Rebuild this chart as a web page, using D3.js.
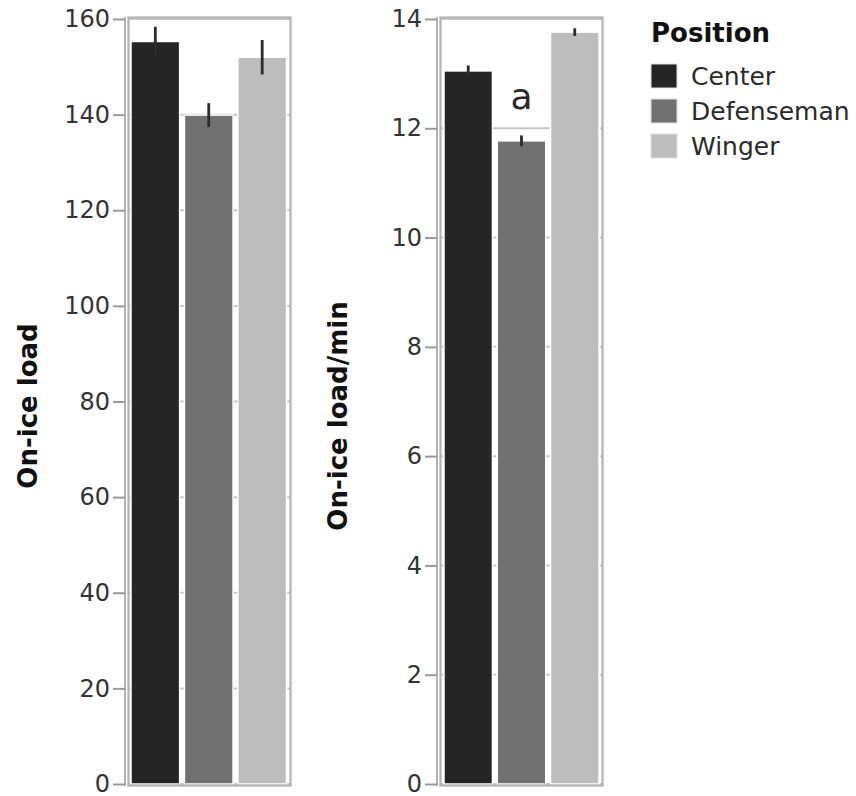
<!DOCTYPE html>
<html>
<head>
<meta charset="utf-8">
<script src="https://cdn.jsdelivr.net/npm/d3@7"></script>
<style>
  html, body { margin: 0; padding: 0; background: #fff; }
  svg { display: block; font-family: "DejaVu Sans", sans-serif; }
</style>
</head>
<body>
<svg id="chart" width="856" height="796"></svg>
<script>
// Player positions and colours
const positions = ["Center", "Defenseman", "Winger"];
const fills = ["#252525", "#717171", "#bdbdbd"];

// Total on-ice load (mean and error)
const loadMean = [155.3, 139.9, 152.0];
const loadErr = [3.1, 2.5, 3.6];
const loadTicks = [0, 20, 40, 60, 80, 100, 120, 140, 160];

// On-ice load per minute (mean and error)
const rateMean = [13.05, 11.77, 13.76];
const rateErr = [0.1, 0.1, 0.07];
const rateTicks = [0, 2, 4, 6, 8, 10, 12, 14];

const svg = d3.select("#chart");
const color = d3.scaleOrdinal().domain(positions).range(fills);

function panel(cfg) {
  const g = svg.append("g");
  const y = d3.scaleLinear().domain(cfg.domain).range([784, 19]);
  const x = d3.scaleBand().domain(positions)
    .range([cfg.barLeft, cfg.barRight]).paddingInner(0.09).paddingOuter(0);

  // grid lines behind the bars
  g.append("g").selectAll("line").data(cfg.ticks).join("line")
    .attr("x1", cfg.left).attr("x2", cfg.right)
    .attr("y1", d => y(d)).attr("y2", d => y(d))
    .attr("stroke", "#c6c6c6").attr("stroke-width", 2);

  // bars
  g.append("g").selectAll("rect").data(positions).join("rect")
    .attr("x", d => x(d))
    .attr("width", x.bandwidth())
    .attr("y", (d, i) => y(cfg.mean[i]))
    .attr("height", (d, i) => y(0) - y(cfg.mean[i]))
    .attr("fill", d => color(d))
    .attr("stroke", "#fff").attr("stroke-width", 1.5);

  // error bars
  g.append("g").selectAll("line").data(positions).join("line")
    .attr("x1", d => x(d) + x.bandwidth() / 2)
    .attr("x2", d => x(d) + x.bandwidth() / 2)
    .attr("y1", (d, i) => y(cfg.mean[i] + cfg.err[i]))
    .attr("y2", (d, i) => y(cfg.mean[i] - cfg.err[i]))
    .attr("stroke", "#2c2c2c").attr("stroke-width", 2.8);

  // panel border
  g.append("rect")
    .attr("x", cfg.left).attr("y", 17.5)
    .attr("width", cfg.right - cfg.left).attr("height", 785.5 - 17.5)
    .attr("fill", "none").attr("stroke", "#b2b2b2").attr("stroke-width", 2.2);

  // y axis
  const axis = d3.axisLeft(y).tickValues(cfg.ticks).tickSize(12).tickPadding(3);
  const ax = g.append("g")
    .attr("transform", `translate(${cfg.axisX},0)`)
    .call(axis);
  ax.select(".domain").attr("stroke", "#b2b2b2").attr("stroke-width", 2)
    .attr("d", `M0,17V786`);
  ax.selectAll(".tick line").attr("stroke", "#9a9a9a").attr("stroke-width", 2);
  ax.selectAll(".tick text")
    .attr("font-family", "DejaVu Sans, sans-serif")
    .attr("font-size", 24).attr("fill", "#333");

  // axis title
  svg.append("text")
    .attr("transform", `translate(${cfg.titleX},${cfg.titleY}) rotate(-90)`)
    .attr("text-anchor", "middle")
    .attr("font-size", 26).attr("font-weight", "bold").attr("fill", "#111")
    .text(cfg.title);

  return { g, x, y };
}

panel({
  domain: [0, 160], ticks: loadTicks, mean: loadMean, err: loadErr,
  left: 128.5, right: 290.5, barLeft: 131, barRight: 286.5, axisX: 125,
  title: "On-ice load", titleX: 37, titleY: 406
});

const right = panel({
  domain: [0, 14], ticks: rateTicks, mean: rateMean, err: rateErr,
  left: 440.5, right: 602.5, barLeft: 444, barRight: 599, axisX: 437,
  title: "On-ice load/min", titleX: 347, titleY: 416
});

// significance letter above the defenseman bar
right.g.append("text")
  .attr("x", right.x("Defenseman") + right.x.bandwidth() / 2)
  .attr("y", 109)
  .attr("text-anchor", "middle")
  .attr("font-size", 36).attr("fill", "#2a2a2a")
  .text("a");

// legend
const legend = svg.append("g").attr("transform", "translate(651,0)");
legend.append("text")
  .attr("x", 0).attr("y", 42)
  .attr("font-size", 26).attr("font-weight", "bold").attr("fill", "#111")
  .text("Position");
const item = legend.selectAll("g.item").data(positions).join("g")
  .attr("class", "item")
  .attr("transform", (d, i) => `translate(0,${64 + i * 35})`);
item.append("rect")
  .attr("width", 26).attr("height", 24)
  .attr("fill", d => color(d))
  .attr("stroke", "#e0e0e0").attr("stroke-width", 1);
item.append("text")
  .attr("x", 40).attr("y", 21)
  .attr("font-size", 25).attr("fill", "#2a2a2a")
  .text(d => d);
</script>
</body>
</html>
